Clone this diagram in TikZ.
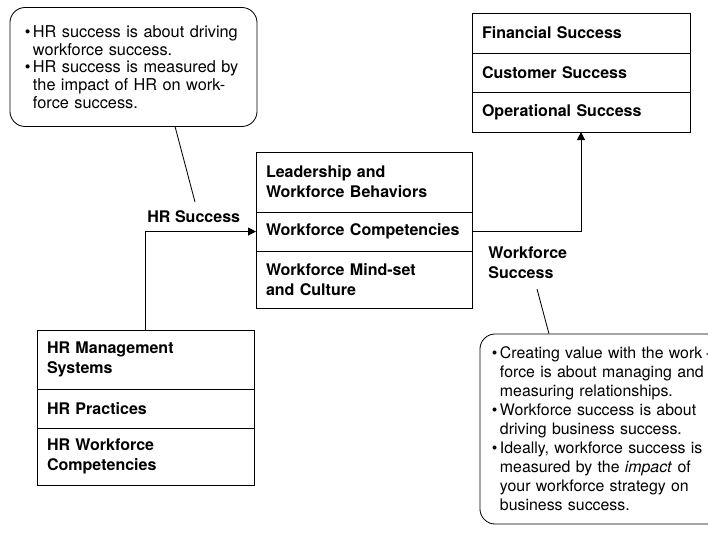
\documentclass[tikz,border=0pt]{standalone}
\usepackage{fontspec}
\setmainfont{TeX Gyre Heros}
\usetikzlibrary{positioning,calc,arrows.meta}

\newcommand{\bull}{\makebox[0.2cm][l]{\textbullet}}
\newcommand{\indnt}{\hspace*{0.2cm}}

\begin{document}
\begin{tikzpicture}[x=0.025cm,y=-0.025cm,>={Triangle[length=0.2cm,width=0.2cm]},line width=0.6pt]
	\tikzset{part/.style={draw,outer sep=0pt,inner xsep=0.25cm,align=left,anchor=north west,
			font=\fontsize{11.4}{14.2}\selectfont\bfseries},
		note/.style={draw,rounded corners=0.38cm,align=left,inner xsep=0.375cm},
		tag/.style={font=\fontsize{11.4}{14.2}\selectfont\bfseries,align=left,inner sep=0pt}}
	\useasboundingbox (0,0) rectangle (708,532);
	
	% business results
	\node[part,text width=4.95cm,minimum height=1cm] (fin) at (472,13) {Financial Success};
	\node[part,text width=4.95cm,minimum height=0.975cm,below=0pt of fin] (cust) {Customer Success};
	\node[part,text width=4.95cm,minimum height=1cm,below=0pt of cust] (oper) {Operational Success};
	
	% workforce
	\node[part,text width=4.9cm,minimum height=1.5cm] (lead) at (256,152) {Leadership and\\Workforce Behaviors};
	\node[part,text width=4.9cm,minimum height=0.975cm,below=0pt of lead] (comp) {Workforce Competencies};
	\node[part,text width=4.9cm,minimum height=1.425cm,below=0pt of comp] (mind) {Workforce Mind-set\\and Culture};
	
	% HR
	\node[part,text width=4.925cm,minimum height=1.475cm] (mgmt) at (37,330) {HR Management\\Systems};
	\node[part,text width=4.925cm,minimum height=0.975cm,below=0pt of mgmt] (prac) {HR Practices};
	\node[part,text width=4.925cm,minimum height=1.425cm,below=0pt of prac] (wcomp) {HR Workforce\\Competencies};
	
	\node[tag,anchor=west] (hrlab) at (147,217) {HR Success};
	\node[tag,anchor=west] (wflab) at (488,263) {Workforce\\Success};
	
	\draw[->] (mgmt.north) |- (comp.west);
	\draw[->] (comp.east) -| (oper.south);
	
	% callouts
	\node[note,text width=5.425cm,minimum height=2.975cm,font=\fontsize{11.6}{12.6}\selectfont] (hrnote) at (133.5,67)
	{\bull HR success is about driving\\ \indnt workforce success.\\ \bull HR success is measured by\\ \indnt the impact of HR on work-\\ \indnt force success.};
	\node[note,text width=5.8cm,minimum height=4.75cm,inner xsep=0.3cm,font=\fontsize{11.3}{13.5}\selectfont] (wfnote) at (608,429)
	{\bull Creating value with the work\,·\\ \indnt force is about managing and\\ \indnt measuring relationships.\\
		\bull Workforce success is about\\ \indnt driving business success.\\
		\bull Ideally, workforce success is\\ \indnt measured by the \textit{impact} of\\ \indnt your workforce strategy on\\ \indnt business success.};
	
	\coordinate (hrtip) at (195,202);
	\coordinate (wftip) at (537,289);
	\draw (hrtip) -- ($(hrnote.south west)!0.668!(hrnote.south east)$);
	\draw (wftip) -- ($(wfnote.north west)!0.27!(wfnote.north east)$);
\end{tikzpicture}
\end{document}
